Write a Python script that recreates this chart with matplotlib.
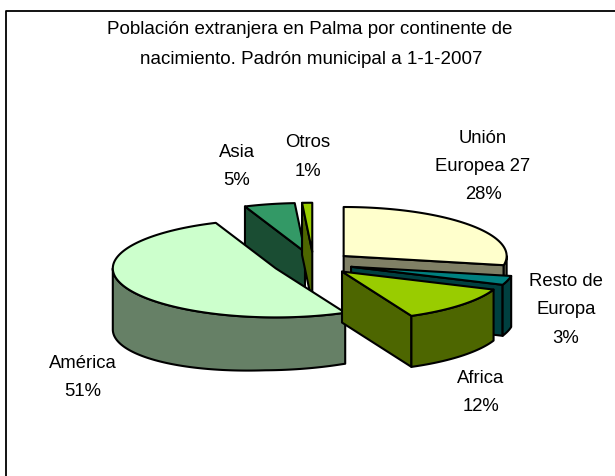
import numpy as np
import matplotlib
matplotlib.use('Agg')
import matplotlib.pyplot as plt
from matplotlib.patches import Polygon

plt.rcParams['font.family'] = ['Liberation Sans', 'DejaVu Sans']

# Data
categories = ['Unión\nEuropea 27', 'Resto de\nEuropa', 'Africa', 'América', 'Asia', 'Otros']
percentages = [28, 3, 12, 51, 5, 1]
pct_labels = ['28%', '3%', '12%', '51%', '5%', '1%']

# Styles
top_colors = ['#FFFFCC', '#008080', '#99CC00', '#CCFFCC', '#339966', '#99CC00']
side_colors = ['#808066', '#004040', '#4D6600', '#668066', '#1A4D33', '#4D6600']
draw_order = [4, 5, 3, 0, 1, 2]  # back to front

# Pie geometry in pixels
cx, cy = 313.5, 263.5
rx, ry = 163, 49
explode = [0.24, 0.24, 0.24, 0.252, 0.24, 0.24]
label_pos = [(483, 166.5), (566, 310), (481, 392.5), (83, 377.5), (236.5, 166.5), (308, 157)]


def point(x0, y0, theta, r=1.0):
    return x0 + r * rx * np.sin(theta), y0 - r * ry * np.cos(theta)


def arc(x0, y0, t0, t1):
    t = np.linspace(t0, t1, max(2, int(np.degrees(t1 - t0)) + 2))
    return np.column_stack(point(x0, y0, t))


def wall(ax, pts, color):
    # extrude a line of top edge points down, the original gets taller to the left
    pts = np.asarray(pts)
    drop = np.interp(pts[:, 0], [114, 265, 343, 493], [61, 53, 51, 51])
    low = np.column_stack([pts[:, 0], pts[:, 1] + drop])[::-1]
    ax.add_patch(Polygon(np.vstack([pts, low]), closed=True, facecolor=color,
                         edgecolor='black', linewidth=1.5, joinstyle='round'))


fig = plt.figure(figsize=(6.15, 4.76), dpi=100)
ax = fig.add_axes([0, 0, 1, 1])
ax.set_xlim(0, 615)
ax.set_ylim(476, 0)
ax.axis('off')

# chart frame, only top and left fall inside the picture
ax.plot([6, 6, 615], [476, 10.5, 10.5], color='black', linewidth=1.3)

edges = np.radians(np.concatenate([[0], np.cumsum(percentages)]) * 3.6)

for i in draw_order:
    t0, t1 = edges[i], edges[i + 1]
    mid = (t0 + t1) / 2
    x0, y0 = point(cx, cy, mid, explode[i])
    if np.sin(t0) < 0:
        wall(ax, [(x0, y0), point(x0, y0, t0)], side_colors[i])
    if np.sin(t1) > 0:
        wall(ax, [(x0, y0), point(x0, y0, t1)], side_colors[i])
    a, b = max(t0, np.pi / 2), min(t1, 3 * np.pi / 2)
    if a < b:
        wall(ax, arc(x0, y0, a, b), side_colors[i])
    top = np.vstack([[x0, y0], arc(x0, y0, t0, t1)])
    ax.add_patch(Polygon(top, closed=True, facecolor=top_colors[i], edgecolor='black',
                         linewidth=1.5, joinstyle='round'))

ax.text(310, 29, 'Población extranjera en Palma por continente de', ha='center', va='center', fontsize=13.5)
ax.text(311, 60, 'nacimiento. Padrón municipal a 1-1-2007', ha='center', va='center', fontsize=13.5)

for name, pct, (lx, ly) in zip(categories, pct_labels, label_pos):
    ax.text(lx, ly, name + '\n' + pct, ha='center', va='center', fontsize=13.3, linespacing=1.87)

fig.savefig('out.png', dpi=100)
